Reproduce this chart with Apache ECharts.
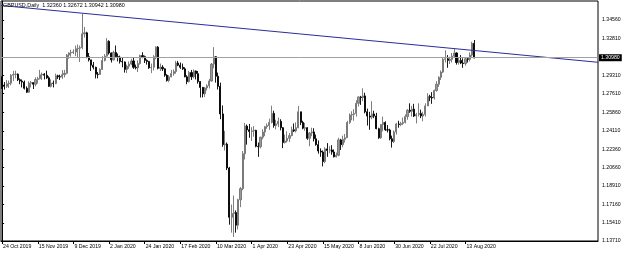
<!DOCTYPE html>
<html>
<head>
<meta charset="utf-8">
<script src="https://cdn.jsdelivr.net/npm/echarts@6/dist/echarts.min.js"></script>
<style>html,body{margin:0;padding:0;background:#fff}#c{width:625px;height:254px}</style>
</head>
<body>
<div id="c"></div>
<script>
// Daily bars [open, high, low, close]
const oct2019 = [
 [1.2915,1.2925,1.2805,1.2842],[1.2842,1.2870,1.2800,1.2830],[1.2830,1.2890,1.2815,1.2855],
 [1.2855,1.2885,1.2815,1.2860],[1.2860,1.2945,1.2840,1.2935],[1.2935,1.2976,1.2880,1.2942]];
const nov2019 = [
 [1.2942,1.2978,1.2905,1.2945],[1.2945,1.2952,1.2880,1.2893],[1.2893,1.2905,1.2850,1.2880],
 [1.2880,1.2895,1.2820,1.2870],[1.2870,1.2885,1.2800,1.2812],[1.2812,1.2830,1.2768,1.2775],
 [1.2775,1.2878,1.2770,1.2860],[1.2860,1.2880,1.2820,1.2865],[1.2865,1.2870,1.2805,1.2850],
 [1.2850,1.2915,1.2830,1.2895],[1.2895,1.2920,1.2855,1.2903],[1.2903,1.2985,1.2895,1.2940],
 [1.2940,1.2960,1.2890,1.2945],[1.2945,1.2955,1.2895,1.2935],[1.2935,1.2978,1.2900,1.2910],
 [1.2910,1.2925,1.2825,1.2830],[1.2830,1.2895,1.2820,1.2860],[1.2860,1.2885,1.2820,1.2858],
 [1.2858,1.2950,1.2850,1.2930],[1.2930,1.2940,1.2900,1.2920],[1.2920,1.2940,1.2890,1.2918]];
const dec2019 = [
 [1.2918,1.2983,1.2900,1.2940],[1.2940,1.2985,1.2915,1.2953],[1.2953,1.3135,1.2945,1.3125],
 [1.3125,1.3150,1.3090,1.3145],[1.3145,1.3175,1.3110,1.3150],[1.3150,1.3180,1.3135,1.3155],
 [1.3155,1.3215,1.3115,1.3185],[1.3185,1.3225,1.3105,1.3190],[1.3190,1.3215,1.3060,1.3195],
 [1.3195,1.3514,1.3180,1.3325],[1.3325,1.3390,1.3290,1.3335],[1.3335,1.3345,1.3095,1.3110],
 [1.3110,1.3145,1.3065,1.3080],[1.3080,1.3080,1.2975,1.3030],[1.3030,1.3060,1.2990,1.3010],
 [1.3010,1.3015,1.2905,1.2945],[1.2945,1.2965,1.2905,1.2942],[1.2942,1.3000,1.2940,1.2990],
 [1.2990,1.3115,1.2985,1.3075],[1.3075,1.3135,1.3065,1.3115],[1.3115,1.3285,1.3110,1.3255]];
const jan2020 = [
 [1.3255,1.3265,1.3130,1.3145],[1.3145,1.3150,1.3055,1.3080],[1.3080,1.3165,1.3075,1.3150],
 [1.3150,1.3215,1.3100,1.3110],[1.3110,1.3140,1.3065,1.3105],[1.3105,1.3120,1.3045,1.3065],
 [1.3065,1.3105,1.3010,1.3060],[1.3060,1.3065,1.2960,1.2990],[1.2990,1.3035,1.2955,1.3020],
 [1.3020,1.3065,1.2995,1.3040],[1.3040,1.3090,1.3030,1.3070],[1.3070,1.3105,1.2995,1.3010],
 [1.3010,1.3035,1.2990,1.3005],[1.3005,1.3075,1.2965,1.3045],[1.3045,1.3130,1.3035,1.3120],
 [1.3120,1.3152,1.3095,1.3110],[1.3110,1.3120,1.3050,1.3075],[1.3075,1.3085,1.3035,1.3065],
 [1.3065,1.3070,1.2995,1.3005],[1.3005,1.3045,1.2955,1.3010],[1.3010,1.3125,1.2980,1.3110],
 [1.3110,1.3207,1.3085,1.3200]];
const feb2020 = [
 [1.3200,1.3210,1.2990,1.3000],[1.3000,1.3045,1.2975,1.3010],[1.3010,1.3030,1.2975,1.2995],
 [1.2995,1.3000,1.2920,1.2935],[1.2935,1.2945,1.2875,1.2885],[1.2885,1.2935,1.2870,1.2920],
 [1.2920,1.2985,1.2915,1.2950],[1.2950,1.2990,1.2930,1.2970],[1.2970,1.3070,1.2950,1.3050],
 [1.3050,1.3070,1.3020,1.3030],[1.3030,1.3055,1.2995,1.3010],[1.3010,1.3045,1.2985,1.2995],
 [1.2995,1.3010,1.2915,1.2920],[1.2920,1.2935,1.2850,1.2875],[1.2875,1.2975,1.2865,1.2960],
 [1.2960,1.2985,1.2890,1.2920],[1.2920,1.2990,1.2905,1.2975],[1.2975,1.2980,1.2895,1.2950],
 [1.2950,1.2975,1.2855,1.2875],[1.2875,1.2880,1.2725,1.2820]];
const mar2020 = [
 [1.2820,1.2825,1.2725,1.2760],[1.2760,1.2825,1.2730,1.2815],[1.2815,1.2850,1.2790,1.2835],
 [1.2835,1.2900,1.2810,1.2880],[1.2880,1.3050,1.2875,1.3040],[1.3040,1.3200,1.3000,1.3110],
 [1.3110,1.3115,1.2865,1.2925],[1.2925,1.2960,1.2800,1.2830],[1.2830,1.2865,1.2520,1.2570],
 [1.2570,1.2650,1.2260,1.2280],[1.2280,1.2410,1.2225,1.2285],[1.2285,1.2300,1.2040,1.2060],
 [1.2060,1.2070,1.1525,1.1595],[1.1595,1.1715,1.1450,1.1630],[1.1630,1.1800,1.1409,1.1640],
 [1.1640,1.1660,1.1450,1.1520],[1.1520,1.1770,1.1480,1.1760],[1.1760,1.1880,1.1690,1.1865],
 [1.1865,1.2220,1.1850,1.2195],[1.2195,1.2485,1.2140,1.2455],[1.2455,1.2470,1.2280,1.2420],
 [1.2420,1.2475,1.2345,1.2405]];
const apr2020 = [
 [1.2405,1.2445,1.2315,1.2410],[1.2410,1.2455,1.2355,1.2415],[1.2415,1.2420,1.2255,1.2265],
 [1.2265,1.2300,1.2165,1.2260],[1.2260,1.2355,1.2245,1.2350],[1.2350,1.2425,1.2330,1.2400],
 [1.2400,1.2455,1.2360,1.2450],[1.2450,1.2480,1.2430,1.2460],[1.2460,1.2525,1.2420,1.2490],
 [1.2490,1.2647,1.2480,1.2575],[1.2575,1.2600,1.2440,1.2460],[1.2460,1.2515,1.2425,1.2475],
 [1.2475,1.2535,1.2445,1.2500],[1.2500,1.2520,1.2415,1.2440],[1.2440,1.2445,1.2247,1.2300],
 [1.2300,1.2375,1.2290,1.2315],[1.2315,1.2405,1.2300,1.2340],[1.2340,1.2390,1.2305,1.2365],
 [1.2365,1.2450,1.2360,1.2420],[1.2420,1.2480,1.2400,1.2410],[1.2410,1.2490,1.2395,1.2440],
 [1.2440,1.2645,1.2435,1.2590]];
const may2020 = [
 [1.2590,1.2590,1.2465,1.2490],[1.2490,1.2505,1.2425,1.2435],[1.2435,1.2485,1.2410,1.2440],
 [1.2440,1.2445,1.2325,1.2340],[1.2340,1.2400,1.2265,1.2390],[1.2390,1.2440,1.2360,1.2400],
 [1.2400,1.2435,1.2310,1.2335],[1.2335,1.2375,1.2270,1.2280],[1.2280,1.2320,1.2195,1.2220],
 [1.2220,1.2245,1.2165,1.2210],[1.2210,1.2225,1.2075,1.2120],[1.2120,1.2255,1.2105,1.2240],
 [1.2240,1.2295,1.2165,1.2225],[1.2225,1.2265,1.2200,1.2230],[1.2230,1.2275,1.2185,1.2210],
 [1.2210,1.2235,1.2160,1.2165],[1.2165,1.2205,1.2160,1.2180],[1.2180,1.2345,1.2170,1.2325],
 [1.2325,1.2335,1.2230,1.2280],[1.2280,1.2365,1.2255,1.2330],[1.2330,1.2380,1.2300,1.2345]];
const jun2020 = [
 [1.2345,1.2505,1.2345,1.2490],[1.2490,1.2575,1.2475,1.2560],[1.2560,1.2595,1.2510,1.2565],
 [1.2565,1.2615,1.2505,1.2575],[1.2575,1.2700,1.2545,1.2670],[1.2670,1.2735,1.2640,1.2730],
 [1.2730,1.2740,1.2655,1.2725],[1.2725,1.2812,1.2690,1.2740],[1.2740,1.2770,1.2575,1.2590],
 [1.2590,1.2620,1.2460,1.2550],[1.2550,1.2590,1.2420,1.2540],[1.2540,1.2690,1.2520,1.2570],
 [1.2570,1.2600,1.2530,1.2550],[1.2550,1.2580,1.2425,1.2430],[1.2430,1.2440,1.2335,1.2345],
 [1.2345,1.2475,1.2335,1.2470],[1.2470,1.2545,1.2405,1.2490],[1.2490,1.2500,1.2410,1.2420],
 [1.2420,1.2465,1.2395,1.2418],[1.2418,1.2430,1.2320,1.2335],[1.2335,1.2365,1.2252,1.2310],
 [1.2310,1.2415,1.2295,1.2400]];
const jul2020 = [
 [1.2400,1.2485,1.2375,1.2475],[1.2475,1.2505,1.2440,1.2470],[1.2470,1.2495,1.2455,1.2480],
 [1.2480,1.2535,1.2465,1.2490],[1.2490,1.2565,1.2480,1.2545],[1.2545,1.2615,1.2515,1.2605],
 [1.2605,1.2670,1.2580,1.2595],[1.2595,1.2645,1.2545,1.2615],[1.2615,1.2665,1.2540,1.2550],
 [1.2550,1.2580,1.2480,1.2565],[1.2565,1.2670,1.2545,1.2575],[1.2575,1.2610,1.2530,1.2550],
 [1.2550,1.2590,1.2500,1.2565],[1.2565,1.2670,1.2545,1.2645],[1.2645,1.2765,1.2645,1.2735],
 [1.2735,1.2750,1.2690,1.2725],[1.2725,1.2775,1.2665,1.2720],[1.2720,1.2800,1.2705,1.2790],
 [1.2790,1.2880,1.2780,1.2850],[1.2850,1.2925,1.2825,1.2915],[1.2915,1.2980,1.2890,1.2965],
 [1.2965,1.3100,1.2955,1.3085],[1.3085,1.3170,1.3055,1.3090]];
const aug2020 = [
 [1.3090,1.3125,1.3005,1.3075],[1.3075,1.3110,1.3040,1.3085],[1.3085,1.3145,1.3055,1.3115],
 [1.3115,1.3185,1.3100,1.3145],[1.3145,1.3150,1.3035,1.3055],[1.3055,1.3100,1.3035,1.3075],
 [1.3075,1.3125,1.3040,1.3050],[1.3050,1.3095,1.3005,1.3045],[1.3045,1.3105,1.3025,1.3090],
 [1.3090,1.3105,1.3055,1.3085],[1.3085,1.3150,1.3065,1.3125],[1.3125,1.3250,1.3110,1.3236],
 [1.32360,1.32672,1.30942,1.30980]];

const firstDay = '2019-10-24';
const lastDay = '2020-08-19';
const holidays = ['2019-12-25', '2020-01-01'];
const emptyBarsRight = 55;

const xTickLabels = ['24 Oct 2019','15 Nov 2019','9 Dec 2019','2 Jan 2020','24 Jan 2020','17 Feb 2020',
  '10 Mar 2020','1 Apr 2020','23 Apr 2020','15 May 2020','8 Jun 2020','30 Jun 2020','22 Jul 2020','13 Aug 2020'];
const yTickLabels = [1.34560,1.32810,1.29310,1.27610,1.25860,1.24110,1.22360,1.20660,1.18910,1.17160,1.15410,1.13710];
const yRange = [1.13710, 1.36352];
const lastPrice = 1.30980;
const titleText = 'GBPUSD,Daily  1.32360 1.32672 1.30942 1.30980';
// trend line anchors: [bar index, price]
const trendAnchors = [[36, 1.3520], [212, 1.3168]];

const bars = [].concat(oct2019, nov2019, dec2019, jan2020, feb2020, mar2020, apr2020, may2020, jun2020, jul2020, aug2020);

const MON = ['Jan','Feb','Mar','Apr','May','Jun','Jul','Aug','Sep','Oct','Nov','Dec'];
function fmt(d){ return d.getUTCDate() + ' ' + MON[d.getUTCMonth()] + ' ' + d.getUTCFullYear(); }
function iso(d){ return d.toISOString().slice(0,10); }
const cats = [];
for (let d = new Date(firstDay + 'T00:00:00Z'); iso(d) <= lastDay; d.setUTCDate(d.getUTCDate()+1)) {
  const wd = d.getUTCDay();
  if (wd === 0 || wd === 6 || holidays.includes(iso(d))) continue;
  cats.push(fmt(d));
}
for (let i = 0; i < emptyBarsRight; i++) cats.push('');
const N = cats.length;

const candleData = bars.map(b => [b[0], b[3], b[2], b[1]]);

const slope = (trendAnchors[1][1] - trendAnchors[0][1]) / (trendAnchors[1][0] - trendAnchors[0][0]);
const tAt = x => trendAnchors[0][1] + (x - trendAnchors[0][0]) * slope;
const trendData = [[-0.5, tAt(-0.5)], [N - 0.5, tAt(N - 0.5)]];

const FONT = 'Liberation Sans';
const showTick = (idx, val) => xTickLabels.includes(val);

const chart = echarts.init(document.getElementById('c'), null, {renderer: 'canvas'});
chart.setOption({
  animation: false,
  backgroundColor: '#fff',
  title: { text: titleText, left: 3, top: 3, padding: 0, textStyle: { fontSize: 5.4, fontWeight: 'normal', color: '#000', fontFamily: FONT } },
  grid: { left: 1, right: 27, top: 1, bottom: 13, show: true, borderColor: '#000', borderWidth: 1, backgroundColor: '#fff' },
  xAxis: [
    { type: 'category', data: cats, boundaryGap: true,
      axisLine: { show: true, lineStyle: { color: '#000', width: 1 } },
      axisTick: { show: true, interval: showTick, alignWithLabel: true, length: 3, lineStyle: { color: '#000' } },
      axisLabel: { interval: showTick, align: 'left', margin: 3, fontSize: 5.2, color: '#000', fontFamily: FONT, padding: [0, 0, 0, 1] },
      splitLine: { show: false } },
    { type: 'value', min: -0.5, max: N - 0.5, show: false }
  ],
  yAxis: { type: 'value', position: 'right', min: yRange[0], max: yRange[1], scale: true,
    axisLine: { show: true, lineStyle: { color: '#000' } },
    axisTick: { show: true, customValues: yTickLabels, length: 2, lineStyle: { color: '#000' } },
    axisLabel: { customValues: yTickLabels, formatter: v => v.toFixed(5), fontSize: 5.2, color: '#000', margin: 4, fontFamily: FONT },
    splitLine: { show: false } },
  series: [
    { type: 'candlestick', xAxisIndex: 0, yAxisIndex: 0, data: candleData, barWidth: 1.6,
      itemStyle: { color: '#9a9a9a', color0: '#000', borderColor: '#707070', borderColor0: '#000', borderWidth: 0.9 },
      markLine: { silent: true, symbol: 'none', data: [{ yAxis: lastPrice }],
        lineStyle: { color: '#a0a0a0', type: 'solid', width: 1 },
        label: { position: 'end', formatter: lastPrice.toFixed(5), backgroundColor: '#000', color: '#fff', fontSize: 5.2, fontFamily: FONT, padding: [1, 2, 1, 2], distance: 1 } } },
    { type: 'line', xAxisIndex: 1, yAxisIndex: 0, data: trendData, symbol: 'none', silent: true,
      lineStyle: { color: '#2c2c9c', width: 1 }, z: 3 }
  ]
});
</script>
</body>
</html>
